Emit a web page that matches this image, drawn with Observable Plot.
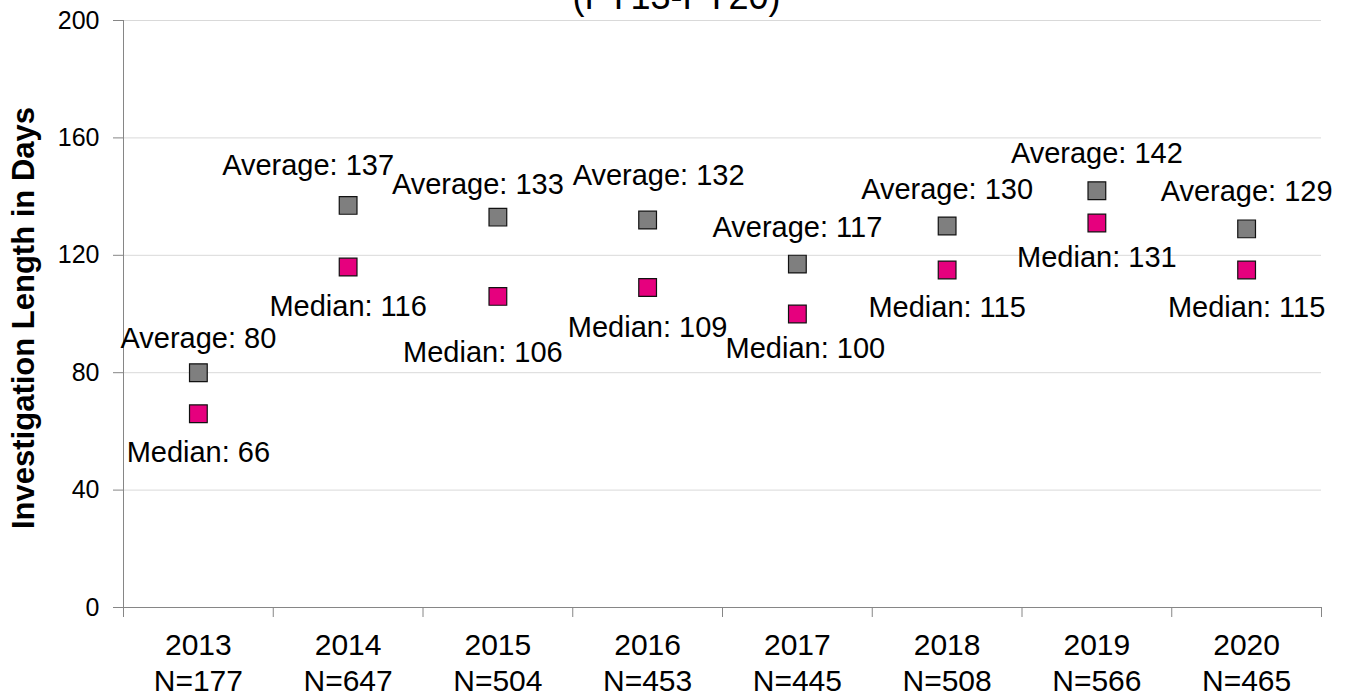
<!DOCTYPE html>
<html>
<head>
<meta charset="utf-8">
<script src="https://cdn.jsdelivr.net/npm/d3@7"></script>
<script src="https://cdn.jsdelivr.net/npm/@observablehq/plot@0.6"></script>
<style>
  html, body { margin: 0; padding: 0; background: #fff; }
  #chart { width: 1350px; height: 698px; overflow: hidden; }
</style>
</head>
<body>
<div id="chart"></div>
<script>
// ---- data ----
const years = [2013, 2014, 2015, 2016, 2017, 2018, 2019, 2020];
const nCounts = [177, 647, 504, 453, 445, 508, 566, 465];
const averages = [80, 137, 133, 132, 117, 130, 142, 129];
const medians = [66, 116, 106, 109, 100, 115, 131, 115];
const yTicks = [0, 40, 80, 120, 160, 200];
const titleText = "(FY13-FY20)";
const yTitle = "Investigation Length in Days";

// ---- layout (label nudges in px, kept apart from data) ----
const avgLabelDx = [0, -40, -20, 11, 0, 0, 0, 0];
const avgLabelDy = [-25, -30, -23, -35, -27, -27, -28, -28];
const medLabelDx = [0, 0, -15, 0, 8, 0, 0, 0];
const medLabelDy = [48, 49, 66, 49, 44, 47, 44, 47];

const rows = years.map((year, i) => ({year, n: nCounts[i], avg: averages[i], med: medians[i]}));
const boundaries = years.map(y => y - 0.5).concat([years[years.length - 1] + 0.5]);

const AXIS_GRAY = "#868686";
const GRID = "#d9d9d9";
const GRAYFILL = "#7f7f7f";
const MAGENTA = "#e6007e";

const labelMarks = [];
rows.forEach((r, i) => {
  labelMarks.push(Plot.text([r], {
    x: "year", y: "avg", text: d => `Average: ${d.avg}`,
    dx: avgLabelDx[i], dy: avgLabelDy[i], lineAnchor: "bottom",
    fontSize: 29, fill: "#000"
  }));
  labelMarks.push(Plot.text([r], {
    x: "year", y: "med", text: d => `Median: ${d.med}`,
    dx: medLabelDx[i], dy: medLabelDy[i], lineAnchor: "bottom",
    fontSize: 29, fill: "#000"
  }));
});

const chart = Plot.plot({
  width: 1350,
  height: 698,
  marginLeft: 123,
  marginRight: 29,
  marginTop: 20,
  marginBottom: 91,
  style: {fontFamily: "'Liberation Sans', Arial, sans-serif", background: "#fff", color: "#000"},
  x: {domain: [boundaries[0], boundaries[boundaries.length - 1]], label: null},
  y: {domain: [0, 200], label: null},
  marks: [
    Plot.ruleY(yTicks.filter(t => t > 0), {stroke: GRID, strokeWidth: 1}),
    Plot.ruleY([0], {stroke: AXIS_GRAY, strokeWidth: 1}),
    Plot.ruleX([boundaries[0]], {y1: 0, y2: 200, stroke: AXIS_GRAY, strokeWidth: 1}),
    Plot.axisY({ticks: yTicks, tickSize: 10, tickPadding: 14, fontSize: 25, stroke: AXIS_GRAY, fill: "#000", label: null}),
    Plot.axisX({ticks: boundaries, tickSize: 10, tickFormat: () => "", stroke: AXIS_GRAY, label: null}),
    Plot.text(rows, {
      x: "year", frameAnchor: "bottom", dy: 22, lineAnchor: "top", lineHeight: 1.2,
      text: d => `${d.year}\nN=${d.n}`, fontSize: 30, fill: "#000"
    }),
    Plot.text([yTitle], {
      frameAnchor: "left", textAnchor: "middle", dx: -99, dy: 4, rotate: -90, text: d => d,
      fontSize: 31, fontWeight: "bold", fill: "#000"
    }),
    Plot.text([titleText], {
      frameAnchor: "top", dx: -46, dy: -12, lineAnchor: "bottom", text: d => d,
      fontSize: 36, fill: "#000"
    }),
    ...labelMarks,
    Plot.dot(rows, {x: "year", y: "avg", symbol: "square", r: 10, fill: GRAYFILL, stroke: "#111", strokeWidth: 1.2}),
    Plot.dot(rows, {x: "year", y: "med", symbol: "square", r: 10, fill: MAGENTA, stroke: "#111", strokeWidth: 1.2})
  ]
});
document.getElementById("chart").appendChild(chart);
</script>
</body>
</html>
